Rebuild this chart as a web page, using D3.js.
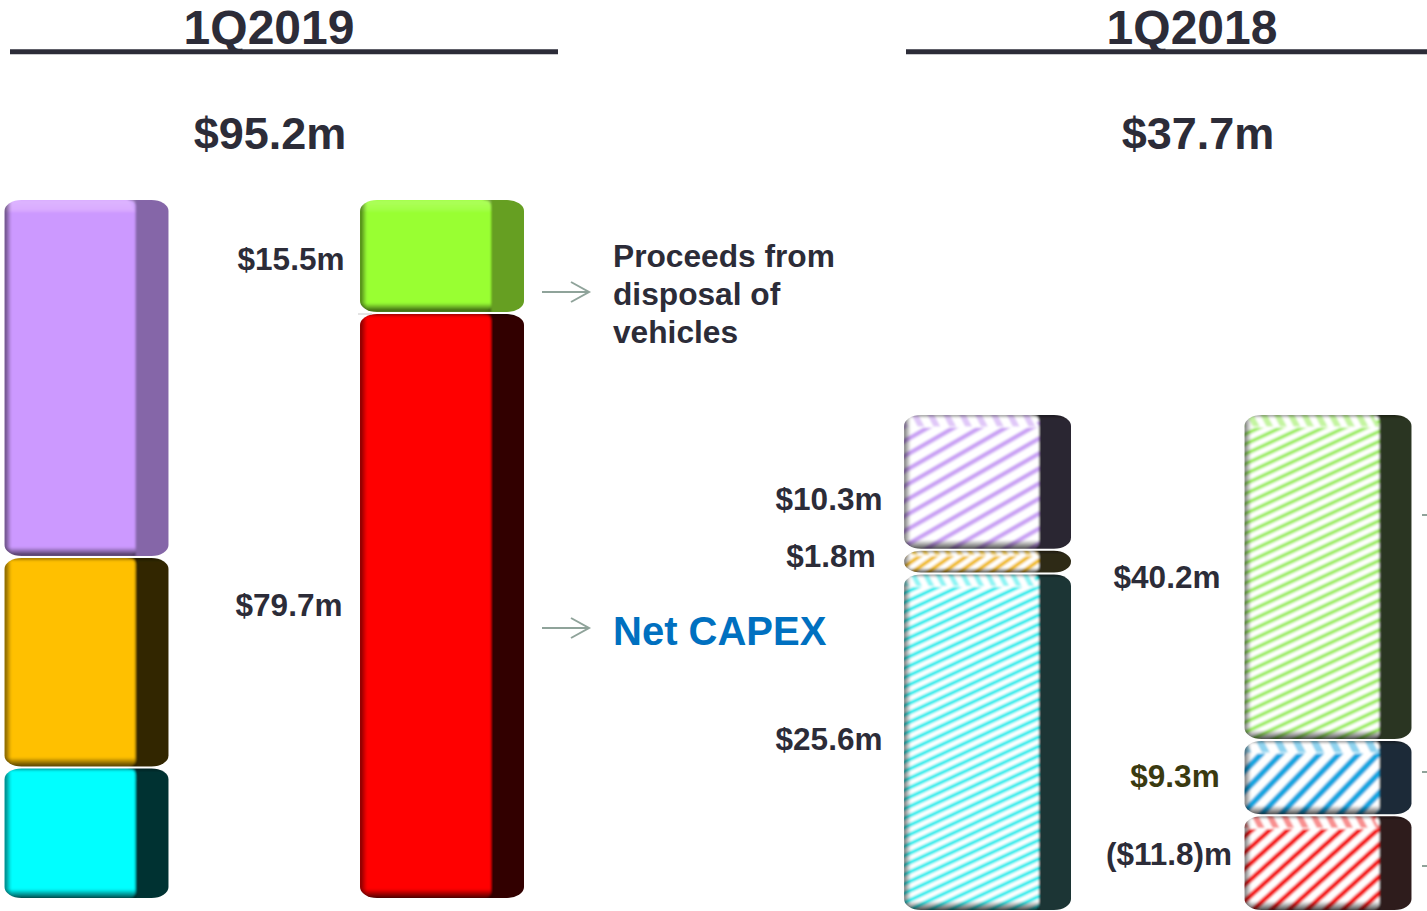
<!DOCTYPE html>
<html>
<head>
<meta charset="utf-8">
<script src="https://cdn.jsdelivr.net/npm/d3@7"></script>
<style>
  html, body { margin: 0; padding: 0; background: #fff; }
  svg { display: block; }
  text { font-family: "Liberation Sans", Arial, sans-serif; font-weight: bold; fill: #2c2c38; }
</style>
</head>
<body>
<svg id="main_chart" width="1427" height="911"></svg>
<script>
// values, in $m
const periods = ['1Q2019', '1Q2018'];
const period_totals = ['$95.2m', '$37.7m'];
const uses_2019 = [48.7, 28.6, 17.9];
const sources_2019 = [15.5, 79.7];
const uses_2018 = [10.3, 1.8, 25.6];
const sources_2018 = [40.2, 9.3, 11.8];
const sources_2019_labels = ['$15.5m', '$79.7m'];
const uses_2018_labels = ['$10.3m', '$1.8m', '$25.6m'];
const sources_2018_labels = ['$40.2m', '$9.3m', '($11.8)m'];
const note_lines = ['Proceeds from', 'disposal of', 'vehicles'];
const net_capex = 'Net CAPEX';

const svg = d3.select('#main_chart');
const defs = svg.append('defs');

// shared edge shading
function edge_gradient(id, x2, y2, stops) {
  const g = defs.append('linearGradient').attr('id', id)
    .attr('x1', 0).attr('y1', 0).attr('x2', x2).attr('y2', y2);
  stops.forEach(function(s) {
    g.append('stop').attr('offset', s[0]).attr('stop-color', s[1]).attr('stop-opacity', s[2]);
  });
}
edge_gradient('shade_left', 1, 0, [[0, '#000', 0.6], [1, '#000', 0]]);
edge_gradient('shade_bottom', 0, 1, [[0, '#000', 0], [1, '#000', 0.7]]);
edge_gradient('shade_top', 0, 1, [[0, '#fff', 0.2], [0.8, '#fff', 0.1], [1, '#fff', 0]]);
edge_gradient('shade_dark_top', 0, 1, [[0, '#000', 0.6], [1, '#000', 0]]);
defs.append('filter').attr('id', 'soft').attr('x', '-5%').attr('y', '-5%').attr('width', '110%').attr('height', '110%')
  .append('feGaussianBlur').attr('stdDeviation', 0.8);

function hatch(id, color, angle, period, stripe) {
  const p = defs.append('pattern').attr('id', id).attr('patternUnits', 'userSpaceOnUse')
    .attr('width', period).attr('height', period)
    .attr('patternTransform', 'rotate(' + angle + ')');
  p.append('rect').attr('width', period).attr('height', period).attr('fill', '#fff');
  p.append('rect').attr('width', period).attr('height', stripe).attr('fill', color);
}
hatch('h_purple', '#c9a0f4', -30, 13, 4.5);
hatch('h_gold', '#f0bc20', -35, 9, 4);
hatch('h_cyan', '#10ecec', -25, 8.5, 3.6);
hatch('h_green', '#98ec58', -25, 9, 3.6);
hatch('h_blue', '#14a6e0', -46, 14, 6);
hatch('h_red', '#f41414', -42, 12, 5);
hatch('t_purple', '#e0c8f8', 62, 14, 6);
hatch('t_gold', '#f4d060', 62, 10, 5);
hatch('t_cyan', '#90f4f4', 62, 11, 5);
hatch('t_green', '#c4f4a0', 62, 12, 6);
hatch('t_blue', '#90d4f0', 62, 16, 7);
hatch('t_red', '#f89090', 62, 13, 6);

let clip_count = 0;

function draw_stack(values, x, top, bottom, width, front, styles) {
  const total = d3.sum(values);
  const y = d3.scaleLinear().domain([0, total]).range([top, bottom]);
  const starts = [0].concat(Array.from(d3.cumsum(values)));
  const g = svg.append('g');
  values.forEach(function(v, i) {
    const st = styles[i];
    const y0 = y(starts[i]) + 1;
    const h = y(starts[i + 1]) - y(starts[i]) - 2;
    const id = 'seg_' + (clip_count++);
    defs.append('clipPath').attr('id', id).append('rect')
      .attr('x', x).attr('y', y0).attr('width', width).attr('height', h)
      .attr('rx', 17).attr('ry', Math.min(11, h / 2));
    const seg = g.append('g').attr('clip-path', 'url(#' + id + ')').append('g').attr('filter', 'url(#soft)');
    const bevel = Math.min(12, h * 0.22);
    const bottom_bevel = Math.min(9, h * 0.22);
    // side face
    seg.append('rect').attr('x', x - 2).attr('y', y0 - 2).attr('width', width + 4).attr('height', h + 4).attr('fill', st.side);
    // front face
    seg.append('rect').attr('x', x - 2).attr('y', y0).attr('width', front + 2).attr('height', h)
      .attr('rx', 6).attr('fill', st.fill);
    // top slope, running into the side face
    seg.append('path')
      .attr('d', 'M' + (x - 2) + ',' + (y0 - 2) + 'H' + (x + front - 8) + 'L' + (x + front) + ',' + (y0 + bevel) + 'H' + (x - 2) + 'Z')
      .attr('fill', st.top);
    if (st.hatched) {
      seg.append('rect').attr('x', x + 5).attr('y', y0 + bevel - 0.5).attr('width', front - 8).attr('height', 1.2).attr('fill', '#fff');
    } else if (st.lit) {
      seg.append('rect').attr('x', x).attr('y', y0).attr('width', front).attr('height', bevel).attr('fill', 'url(#shade_top)');
    }
    if (!st.lit) {
      seg.append('rect').attr('x', x).attr('y', y0 - 1).attr('width', width).attr('height', 4).attr('fill', 'url(#shade_dark_top)');
    }
    // darker left edge and bottom edge
    seg.append('rect').attr('x', x - 1).attr('y', y0).attr('width', 8).attr('height', h).attr('fill', 'url(#shade_left)');
    seg.append('rect').attr('x', x).attr('y', y0 + h - bottom_bevel).attr('width', front).attr('height', bottom_bevel).attr('fill', 'url(#shade_bottom)');
  });
}

const solid_uses = [
  { fill: '#cc99ff', side: '#8566a8', top: '#d5a3ff', lit: true },
  { fill: '#ffc000', side: '#332700', top: '#ffc000' },
  { fill: '#00ffff', side: '#003333', top: '#00ffff' }
];
const solid_sources = [
  { fill: '#99ff33', side: '#669f24', top: '#99ff33', lit: true },
  { fill: '#ff0000', side: '#330000', top: '#ff0000' }
];
const hatched_uses = [
  { fill: 'url(#h_purple)', side: '#2a2830', top: 'url(#t_purple)', hatched: true },
  { fill: 'url(#h_gold)', side: '#2e2c18', top: 'url(#t_gold)', hatched: true },
  { fill: 'url(#h_cyan)', side: '#1c3434', top: 'url(#t_cyan)', hatched: true }
];
const hatched_sources = [
  { fill: 'url(#h_green)', side: '#2c3420', top: 'url(#t_green)', hatched: true },
  { fill: 'url(#h_blue)', side: '#1c2c38', top: 'url(#t_blue)', hatched: true },
  { fill: 'url(#h_red)', side: '#2e1c1c', top: 'url(#t_red)', hatched: true }
];

draw_stack(uses_2019, 4.5, 199, 899, 164, 131, solid_uses);
draw_stack(sources_2019, 360, 199, 899, 164, 131, solid_sources);
draw_stack(uses_2018, 904, 414, 911, 167, 135, hatched_uses);
draw_stack(sources_2018, 1244.5, 414, 911, 167, 135, hatched_sources);

// headings
const heading_x = [269, 1192];
const total_x = [270, 1198];
const rule_x = [[10, 558], [906, 1427]];
periods.forEach(function(p, i) {
  svg.append('line').attr('x1', rule_x[i][0]).attr('x2', rule_x[i][1]).attr('y1', 51.7).attr('y2', 51.7)
    .attr('stroke', '#2c2c38').attr('stroke-width', 5);
  svg.append('text').attr('x', heading_x[i]).attr('y', 44).attr('text-anchor', 'middle')
    .attr('font-size', 48).text(p);
  svg.append('text').attr('x', total_x[i]).attr('y', 149).attr('text-anchor', 'middle')
    .attr('font-size', 45).text(period_totals[i]);
});

// value labels
function value_labels(labels, xs, ys, color) {
  svg.append('g').selectAll('text').data(labels).enter().append('text')
    .attr('x', function(d, i) { return xs[i]; })
    .attr('y', function(d, i) { return ys[i]; })
    .attr('text-anchor', 'middle')
    .attr('font-size', 31.5)
    .style('fill', function(d, i) { return color ? color[i] : null; })
    .text(function(d) { return d; });
}
value_labels(sources_2019_labels, [291, 289], [270, 616]);
value_labels(uses_2018_labels, [829, 831, 829], [510, 567, 750]);
value_labels(sources_2018_labels, [1167, 1175, 1169], [588, 787, 865], ['#2c2c38', '#3a3a10', '#2c2c38']);

// notes and arrows
function arrow(x1, x2, y) {
  const a = svg.append('g').attr('fill', 'none').attr('stroke', '#8fa39a').attr('stroke-width', 2);
  a.append('line').attr('x1', x1).attr('x2', x2).attr('y1', y).attr('y2', y);
  a.append('path').attr('d', 'M' + (x2 - 18) + ',' + (y - 10) + 'L' + x2 + ',' + y + 'L' + (x2 - 18) + ',' + (y + 10));
}
arrow(542, 589, 292);
arrow(542, 589, 628);

svg.append('g').selectAll('text').data(note_lines).enter().append('text')
  .attr('x', 613)
  .attr('y', function(d, i) { return 267 + i * 38; })
  .attr('font-size', 31.7)
  .text(function(d) { return d; });

svg.append('text').attr('x', 613).attr('y', 645).attr('font-size', 40)
  .style('fill', '#0070c0').text(net_capex);

// stubs of the leader lines cut off at the right edge
[515, 772, 866].forEach(function(y) {
  svg.append('line').attr('x1', 1422).attr('x2', 1427).attr('y1', y).attr('y2', y)
    .attr('stroke', '#8fa39a').attr('stroke-width', 2);
});
svg.append('line').attr('x1', 358).attr('x2', 372).attr('y1', 314).attr('y2', 314)
  .attr('stroke', '#c8c8c8').attr('stroke-width', 1);
</script>
</body>
</html>
